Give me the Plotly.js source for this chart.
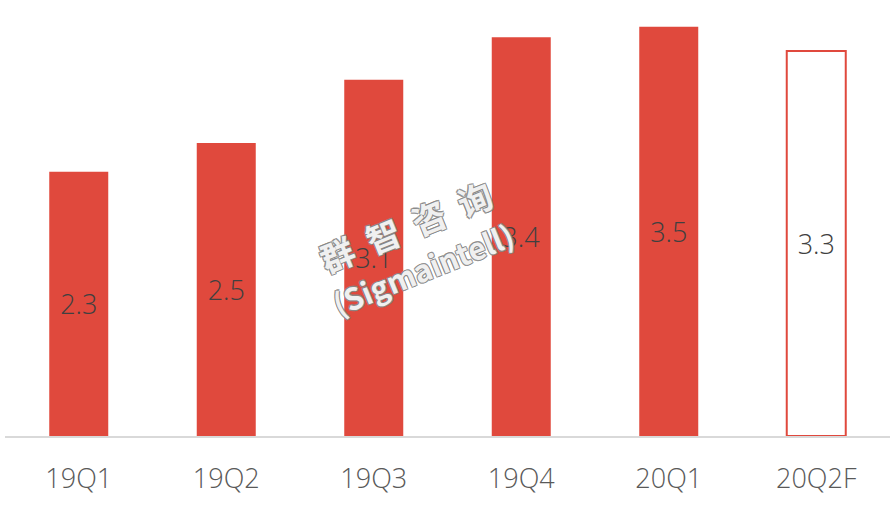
<!DOCTYPE html>
<html>
<head>
<meta charset="utf-8">
<script src="https://cdn.plot.ly/plotly-3.0.1.min.js"></script>
<style>html,body{margin:0;padding:0;background:#fff;}#chart{width:896px;height:510px;}</style>
</head>
<body>
<div id="chart"></div>
<script>
const categories = ["19Q1", "19Q2", "19Q3", "19Q4", "20Q1", "20Q2F"];
const values = [2.3, 2.55, 3.1, 3.47, 3.56, 3.35];
const valueLabels = ["2.3", "2.5", "3.1", "3.4", "3.5", "3.3"];
const isForecast = [false, false, false, false, false, true];

const red = "#E0493D";
const fillColors = isForecast.map(f => f ? "#ffffff" : red);

const trace = {
  type: "bar",
  x: categories,
  y: values,
  width: 0.4,
  text: valueLabels,
  textposition: "inside",
  insidetextanchor: "middle",
  textangle: 0,
  textfont: {family: "Open Sans, sans-serif", size: 27, color: "#404040", weight: 300},
  marker: {color: fillColors, line: {color: red, width: isForecast.map(f => f ? 2 : 0)}},
  hoverinfo: "none",
  cliponaxis: false
};

const layout = {
  width: 896, height: 510,
  margin: {l: 5, r: 6, t: 5, b: 74},
  paper_bgcolor: "#fff", plot_bgcolor: "#fff",
  showlegend: false,
  xaxis: {
    type: "category",
    showgrid: false, zeroline: false,
    showline: true, linecolor: "#d9d9d9", linewidth: 2,
    ticks: "", ticklabelstandoff: 18,
    tickfont: {family: "Open Sans, sans-serif", size: 27, color: "#595959", weight: 300}
  },
  yaxis: {
    range: [0, 3.75], visible: false, showgrid: false, zeroline: false, fixedrange: true
  },
  annotations: [{
    xref: "paper", yref: "paper", x: 0.462, y: 0.44,
    text: "群  智  咨  询<br><span style='font-size:30px'>(Sigmaintell)</span>",
    showarrow: false, textangle: -22,
    font: {family: "Noto Sans CJK SC, sans-serif", size: 34, color: "rgba(255,255,255,0.9)", weight: 700,
           shadow: "1px 1px 0 #888, -1px -1px 0 #888, 1px -1px 0 #888, -1px 1px 0 #888"}
  }]
};

Plotly.newPlot("chart", [trace], layout, {displayModeBar: false, staticPlot: true});
</script>
</body>
</html>
